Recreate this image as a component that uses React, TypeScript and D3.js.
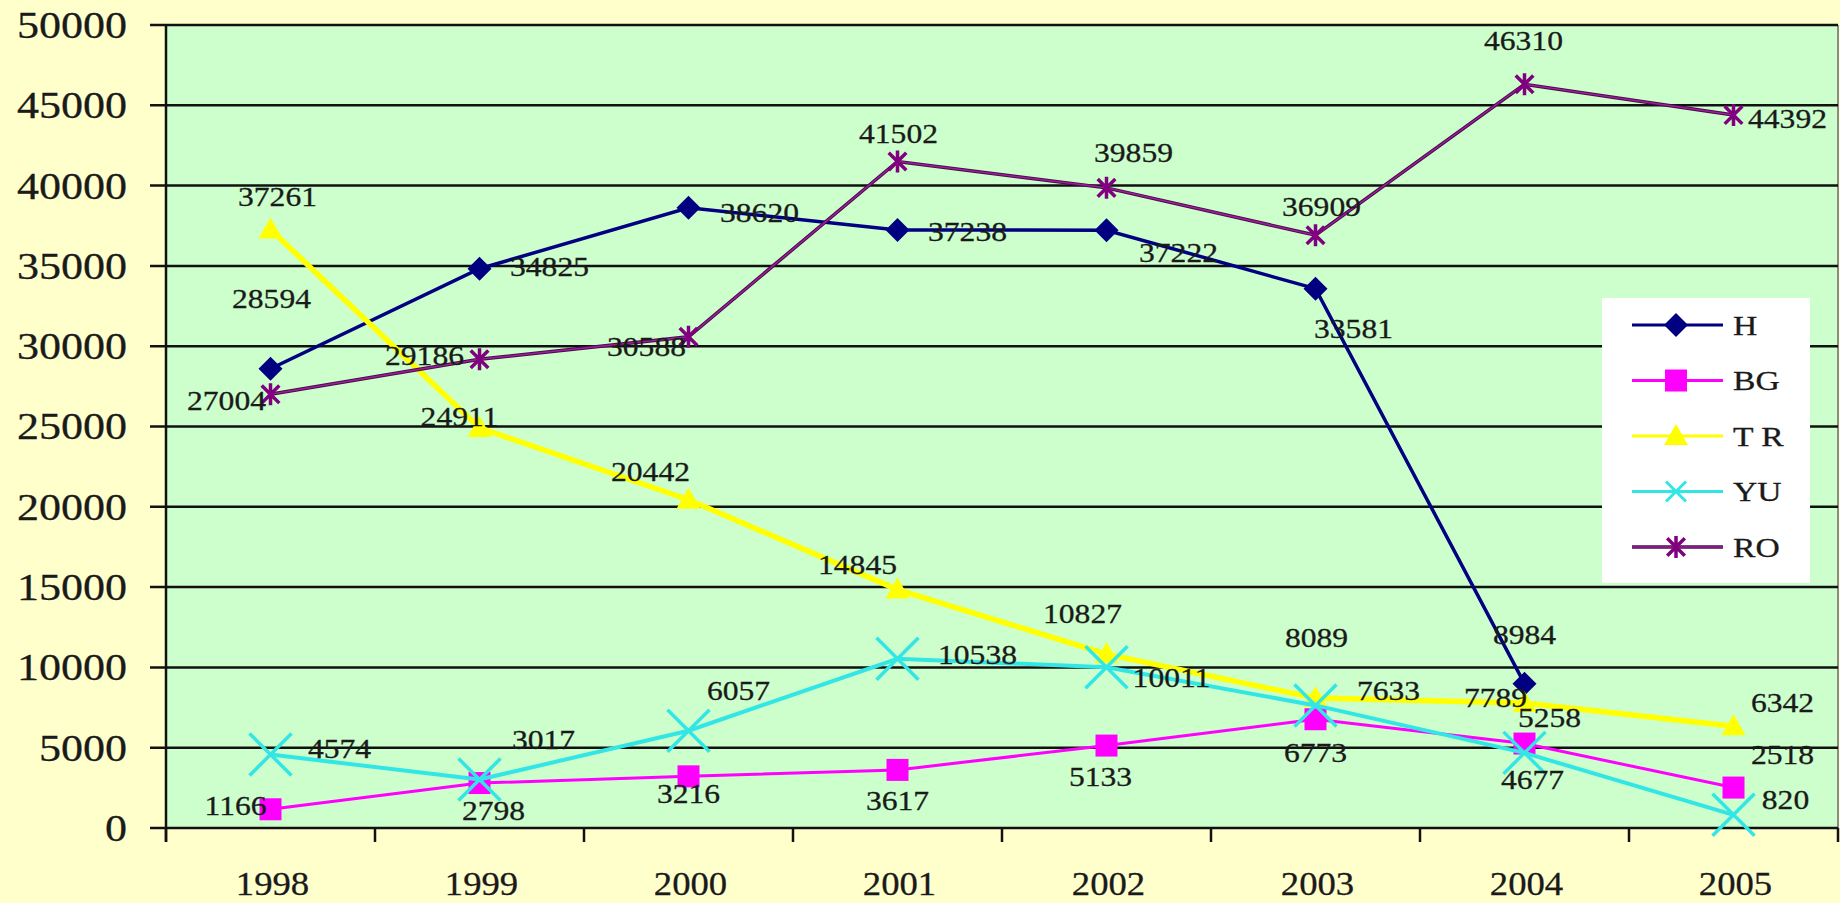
import React from "react";
import * as d3 from "d3";

const years = ["1998", "1999", "2000", "2001", "2002", "2003", "2004", "2005"];
const seriesNames = ["H", "BG", "TR", "YU", "RO"];
const hValues = [28594, 34825, 38620, 37238, 37222, 33581, 8984, null];
const bgValues = [1166, 2798, 3216, 3617, 5133, 6773, 5258, 2518];
const trValues = [37261, 24911, 20442, 14845, 10827, 8089, 7789, 6342];
const yuValues = [4574, 3017, 6057, 10538, 10011, 7633, 4677, 820];
const roValues = [27004, 29186, 30588, 41502, 39859, 36909, 46310, 44392];
const yMax = 50000;

// label placement (px, relative to the point), like the hand-moved excel labels
const labelOffsets: Record<string, ([number, number] | null)[]> = {
  H: [[1, -70], [70, -2], [71, 5], [70, 2], [72, 22], [38, 40], [0, -49], null],
  BG: [[-35, -4], [14, 27], [0, 17], [0, 31], [-6, 31], [0, 33], [25, -26], [49, -33]],
  TR: [[7, -33], [-20, -11], [-38, -28], [-40, -25], [-24, -41], [1, -61], [-29, -5], [49, -24]],
  YU: [[69, -6], [64, -40], [50, -40], [80, -4], [65, 10], [73, -15], [8, 27], [52, -15]],
  RO: [[-44, 6], [-55, -4], [-42, 10], [1, -28], [27, -35], [6, -29], [-1, -44], [54, 3]],
};

const styles: Record<string, { color: string; width: number; marker: string; edge?: string }> = {
  H: { color: "#000080", width: 3.5, marker: "diamond" },
  BG: { color: "#ff00ff", width: 3, marker: "square" },
  TR: { color: "#ffff00", width: 5.5, marker: "triangle" },
  YU: { color: "#33e6e6", width: 4, marker: "x" },
  RO: { color: "#9a209a", width: 1.5, marker: "star", edge: "#4a0a4a" },
};

const W = 1840;
const H = 903;
const plot = { left: 166, right: 1838, top: 25, bottom: 828 };

function Marker({ kind, x, y, color, big }: { kind: string; x: number; y: number; color: string; big?: boolean }) {
  if (kind === "diamond")
    return <path d={`M${x},${y - 12}L${x + 12},${y}L${x},${y + 12}L${x - 12},${y}Z`} fill={color} />;
  if (kind === "square") return <rect x={x - 11} y={y - 11} width={22} height={22} fill={color} />;
  if (kind === "triangle")
    return <path d={`M${x},${y - 12}L${x + 12},${y + 9}L${x - 12},${y + 9}Z`} fill={color} />;
  if (kind === "x") {
    const r = big ? 21 : 10;
    return (
      <path
        d={`M${x - r},${y - r}L${x + r},${y + r}M${x - r},${y + r}L${x + r},${y - r}`}
        stroke={color}
        strokeWidth={big ? 3.5 : 3}
        fill="none"
      />
    );
  }
  const r = 11;
  const k = r * 0.8;
  return (
    <path
      d={`M${x - k},${y - k}L${x + k},${y + k}M${x - k},${y + k}L${x + k},${y - k}M${x},${y - r}L${x},${y + r}`}
      stroke="#800080"
      strokeWidth={3.5}
      fill="none"
    />
  );
}

function SText({ x, y, size, sx, anchor, children }: any) {
  return (
    <text
      transform={`translate(${x},${y}) scale(${sx},1)`}
      style={{ fontFamily: "Liberation Serif", fontSize: size }}
      textAnchor={anchor || "middle"}
      dy="0.35em"
      fill="#1a1a1a"
      stroke="#1a1a1a"
      strokeWidth={0.3}
    >
      {children}
    </text>
  );
}

export default function App() {
  const x = d3.scaleBand().domain(years).range([plot.left, plot.right]).padding(0);
  const y = d3.scaleLinear().domain([0, yMax]).range([plot.bottom, plot.top]);
  const cx = (yr: string) => (x(yr) as number) + x.bandwidth() / 2;

  const allValues: Record<string, (number | null)[]> = {
    H: hValues,
    BG: bgValues,
    TR: trValues,
    YU: yuValues,
    RO: roValues,
  };

  const line = d3
    .line<number | null>()
    .defined((d) => d != null)
    .x((_, i) => cx(years[i]))
    .y((d) => y(d as number));

  const yTicks = y.ticks(10);
  const bounds = years.map((yr) => x(yr) as number).concat([plot.right]);

  const legend = { x: 1602, y: 298, w: 208, h: 285 };

  return (
    <svg width={W} height={H} style={{ position: "fixed", left: 0, top: 0, display: "block" }}>
      <rect x={0} y={0} width={W} height={H} fill="#ffffcc" />
      <rect x={plot.left} y={plot.top} width={plot.right - plot.left} height={plot.bottom - plot.top} fill="#ccffcc" />
      <line x1={plot.right} x2={plot.right} y1={plot.top} y2={plot.bottom} stroke="#8a8a8a" strokeWidth={2} />

      {/* gridlines + y axis */}
      {yTicks.map((t) => (
        <g key={t}>
          <line x1={150} x2={plot.right} y1={y(t)} y2={y(t)} stroke="#111" strokeWidth={2.5} />
          <SText x={127} y={y(t)} size={37} sx={1.19} anchor="end">
            {t}
          </SText>
        </g>
      ))}
      <line x1={plot.left} x2={plot.left} y1={plot.top} y2={plot.bottom + 14} stroke="#111" strokeWidth={2.5} />
      {bounds.map((b, i) => (
        <line key={i} x1={b} x2={b} y1={plot.bottom} y2={plot.bottom + 14} stroke="#111" strokeWidth={2.5} />
      ))}
      {years.map((yr) => (
        <SText key={yr} x={cx(yr) + 2} y={883} size={34} sx={1.08}>
          {yr}
        </SText>
      ))}

      {/* series */}
      {seriesNames.map((s) => {
        const d = line(allValues[s]) || "";
        const st = styles[s];
        return (
          <g key={s}>
            {st.edge && <path d={d} fill="none" stroke={st.edge} strokeWidth={st.width + 2} />}
            <path d={d} fill="none" stroke={st.color} strokeWidth={st.width} />
            {allValues[s].map((v, i) =>
              v == null ? null : <Marker key={i} kind={st.marker} x={cx(years[i])} y={y(v)} color={st.color} big />
            )}
          </g>
        );
      })}

      {/* data labels */}
      {seriesNames.map((s) =>
        allValues[s].map((v, i) => {
          const off = labelOffsets[s][i];
          if (v == null || !off) return null;
          return (
            <SText key={s + i} x={cx(years[i]) + off[0]} y={y(v) + off[1]} size={27} sx={1.17}>
              {v}
            </SText>
          );
        })
      )}

      {/* legend */}
      <rect x={legend.x} y={legend.y} width={legend.w} height={legend.h} fill="#ffffff" />
      {seriesNames.map((s, i) => {
        const ly = legend.y + 27 + i * 55.5;
        const st = styles[s];
        return (
          <g key={s}>
            {st.edge && <line x1={1632} x2={1723} y1={ly} y2={ly} stroke={st.edge} strokeWidth={3.5} />}
            <line x1={1632} x2={1723} y1={ly} y2={ly} stroke={st.color} strokeWidth={st.edge ? 1.5 : 3} />
            <Marker kind={st.marker} x={1676} y={ly} color={st.color} />
            <SText x={1733} y={ly} size={28} sx={1.2} anchor="start">
              {s === "TR" ? "T R" : s}
            </SText>
          </g>
        );
      })}
    </svg>
  );
}
